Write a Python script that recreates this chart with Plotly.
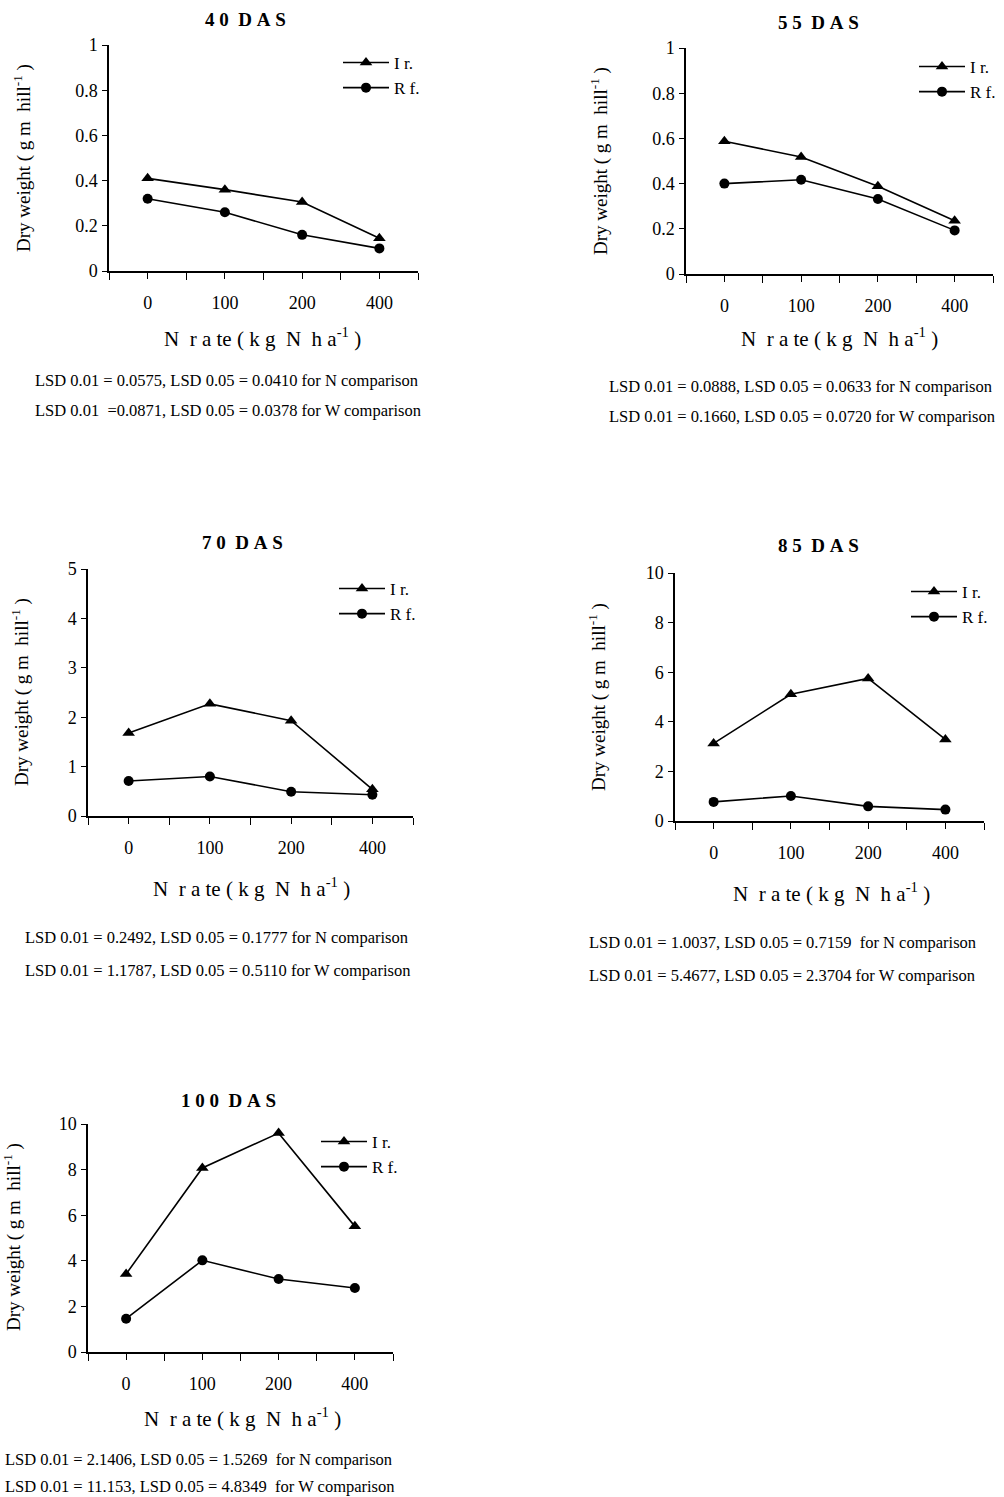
import plotly.graph_objects as go

W, H = 1004, 1497

# ---------------- data ----------------
N_RATES = ["0", "100", "200", "400"]
TITLES = ["4 0  D A S", "5 5  D A S", "7 0  D A S", "8 5  D A S", "1 0 0  D A S"]
IR_40 = [0.41, 0.36, 0.305, 0.145]
RF_40 = [0.32, 0.26, 0.16, 0.10]
IR_55 = [0.587, 0.518, 0.388, 0.236]
RF_55 = [0.40, 0.417, 0.332, 0.193]
IR_70 = [1.68, 2.27, 1.93, 0.54]
RF_70 = [0.71, 0.80, 0.49, 0.43]
IR_85 = [3.13, 5.11, 5.75, 3.29]
RF_85 = [0.77, 1.01, 0.59, 0.46]
IR_100 = [3.42, 8.07, 9.60, 5.51]
RF_100 = [1.46, 4.02, 3.20, 2.81]
Y_MAX = [1, 1, 5, 10, 10]
Y_DTICK = [0.2, 0.2, 1, 2, 2]
LSD_N = [
    "LSD 0.01 = 0.0575, LSD 0.05 = 0.0410 for N comparison",
    "LSD 0.01 = 0.0888, LSD 0.05 = 0.0633 for N comparison",
    "LSD 0.01 = 0.2492, LSD 0.05 = 0.1777 for N comparison",
    "LSD 0.01 = 1.0037, LSD 0.05 = 0.7159  for N comparison",
    "LSD 0.01 = 2.1406, LSD 0.05 = 1.5269  for N comparison",
]
LSD_W = [
    "LSD 0.01  =0.0871, LSD 0.05 = 0.0378 for W comparison",
    "LSD 0.01 = 0.1660, LSD 0.05 = 0.0720 for W comparison",
    "LSD 0.01 = 1.1787, LSD 0.05 = 0.5110 for W comparison",
    "LSD 0.01 = 5.4677, LSD 0.05 = 2.3704 for W comparison",
    "LSD 0.01 = 11.153, LSD 0.05 = 4.8349  for W comparison",
]
IR = [IR_40, IR_55, IR_70, IR_85, IR_100]
RF = [RF_40, RF_55, RF_70, RF_85, RF_100]

# ---------------- layout geometry (pixels) ----------------
BOX = [
    (109, 418, 45, 271),
    (686, 993, 48, 274),
    (88, 413, 569, 816),
    (675, 984, 573, 821),
    (88, 393, 1124, 1352),
]
TITLE_POS = [(245, 20), (818, 23), (242, 542), (818, 545), (228, 1100)]
XTITLE_POS = [(262, 337), (839, 338), (251, 887), (831, 892), (242, 1417)]
YTITLE_POS = [(23, 158), (600, 161), (20, 692), (597, 697), (12, 1237)]
LSD_POS = [(33, 380, 410), (607, 387, 417), (23, 937, 970), (587, 942, 975), (3, 1459, 1486)]
LEGEND_POS = [(338, 45), (914, 49), (334, 571), (906, 574), (316, 1124)]

SERIF = "Liberation Serif, Times New Roman, serif"
NB = "\u00a0"
XPOS = list(range(len(N_RATES)))

def px(x):
    return x / W

def py(y):
    return 1 - y / H

fig = go.Figure()
annotations = []
layout = {}

for i in range(5):
    s = "" if i == 0 else str(i + 1)
    xa, ya = "x" + s, "y" + s
    leg = "legend" + s
    fig.add_trace(go.Scatter(
        x=XPOS, y=IR[i], mode="lines+markers", name="I r.",
        xaxis=xa, yaxis=ya, legend=leg,
        line=dict(color="black", width=1.6),
        marker=dict(symbol="triangle-up", size=11, color="black"),
    ))
    fig.add_trace(go.Scatter(
        x=XPOS, y=RF[i], mode="lines+markers", name="R f.",
        xaxis=xa, yaxis=ya, legend=leg,
        line=dict(color="black", width=1.6),
        marker=dict(symbol="circle", size=10, color="black"),
    ))
    x0, x1, yt, yb = BOX[i]
    layout["xaxis" + s] = dict(
        domain=[px(x0), px(x1)], anchor=ya, type="linear", automargin=False,
        range=[-0.5, len(N_RATES) - 0.5], showline=True, linecolor="black",
        linewidth=1.5, tickmode="array", tickvals=XPOS, ticktext=N_RATES,
        ticks="outside", ticklen=6, tickcolor="black", tickwidth=1.2,
        minor=dict(ticks="outside", tickmode="array",
                   tickvals=[v - 0.5 for v in XPOS] + [len(N_RATES) - 0.5],
                   ticklen=7, tickcolor="black", tickwidth=1.2, showgrid=False),
        showgrid=False, zeroline=False, ticklabelstandoff=9,
        tickfont=dict(family=SERIF, size=18, color="black"),
    )
    layout["yaxis" + s] = dict(
        domain=[py(yb), py(yt)], anchor=xa, range=[0, Y_MAX[i]], automargin=False,
        dtick=Y_DTICK[i], tick0=0, showline=True, linecolor="black",
        linewidth=1.5, ticks="outside", ticklen=5, tickcolor="black",
        tickwidth=1.2, showgrid=False, zeroline=False,
        ticklabelstandoff=1,
        tickfont=dict(family=SERIF, size=18, color="black"),
    )
    lx, ly = LEGEND_POS[i]
    layout[leg] = dict(
        x=px(lx), y=py(ly), xanchor="left", yanchor="top",
        bgcolor="rgba(0,0,0,0)", borderwidth=0,
        font=dict(family=SERIF, size=17, color="black"),
        tracegroupgap=0, itemwidth=46,
    )
    tx, ty = TITLE_POS[i]
    annotations.append(dict(
        text="<b>" + TITLES[i].replace(" ", NB) + "</b>", x=px(tx), y=py(ty),
        xref="paper", yref="paper", showarrow=False, xanchor="center",
        yanchor="middle", font=dict(family=SERIF, size=19, color="black"),
    ))
    ax_, ay_ = XTITLE_POS[i]
    annotations.append(dict(
        text="N" + NB * 2 + "r a te ( k g" + NB * 2 + "N" + NB * 2 + "h a<sup>-1</sup> )",
        x=px(ax_), y=py(ay_), xref="paper", yref="paper", showarrow=False,
        xanchor="center", yanchor="middle",
        font=dict(family=SERIF, size=21, color="black"),
    ))
    bx, by = YTITLE_POS[i]
    annotations.append(dict(
        text="Dry weight ( g m" + NB * 2 + "hill<sup>-1</sup> )",
        x=px(bx), y=py(by), xref="paper", yref="paper", showarrow=False,
        xanchor="center", yanchor="middle", textangle=-90,
        font=dict(family=SERIF, size=19, color="black"),
    ))
    lsx, l1, l2 = LSD_POS[i]
    for txt, yy in ((LSD_N[i], l1), (LSD_W[i], l2)):
        annotations.append(dict(
            text=txt.replace("  ", NB * 2), x=px(lsx), y=py(yy), xref="paper",
            yref="paper", showarrow=False, xanchor="left", yanchor="middle",
            font=dict(family=SERIF, size=16.5, color="black"),
        ))

fig.update_layout(
    template="none",
    width=W, height=H, margin=dict(l=0, r=0, t=0, b=0, pad=0, autoexpand=False),
    paper_bgcolor="white", plot_bgcolor="white",
    showlegend=True, annotations=annotations, **layout,
)

fig.write_html(
    "out.html",
    config={"displayModeBar": False},
    post_script="document.body.style.margin='0';document.body.style.overflow='hidden';",
)
